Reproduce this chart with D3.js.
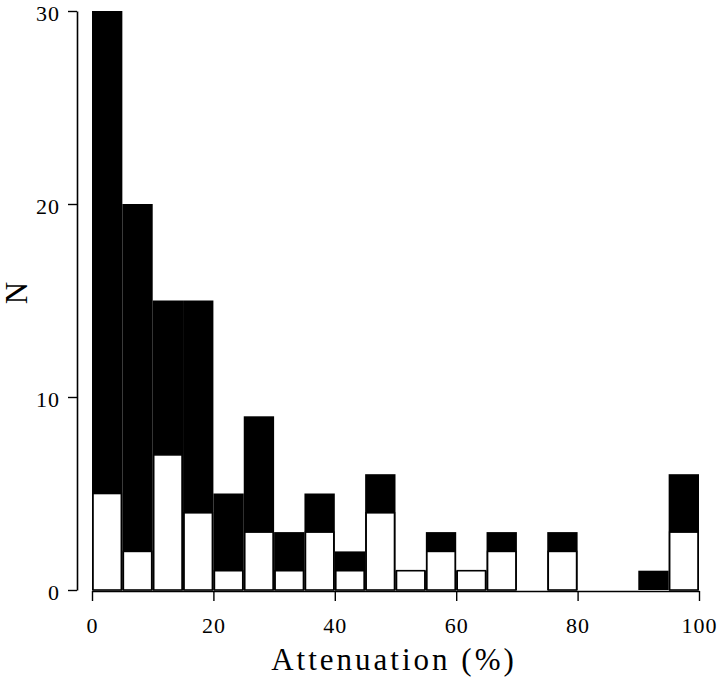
<!DOCTYPE html>
<html><head><meta charset="utf-8">
<script src="https://cdn.jsdelivr.net/npm/d3@7"></script>
<style>body{margin:0;background:#fff}svg{display:block}text{font-family:"Liberation Serif","DejaVu Serif",serif}</style>
</head><body>
<script>
// Bin starts (%), bin width 5
const binStarts = [0,5,10,15,20,25,30,35,40,45,50,55,60,65,70,75,80,85,90,95];
// Total counts (black + white)
const totalCounts = [30,20,15,15,5,9,3,5,2,6,1,3,1,3,0,3,0,0,1,6];
// White (lower) counts
const whiteCounts = [5,2,7,4,1,3,1,3,1,4,1,2,1,2,0,2,0,0,0,3];
const xTicks = [0,20,40,60,80,100];
const yTicks = [0,10,20,30];
const binWidth = 5;

const W = 720, H = 678;
const svg = d3.select("body").append("svg").attr("width", W).attr("height", H);

const x = d3.scaleLinear().domain([0,100]).range([92,699]);
const y = d3.scaleLinear().domain([0,30]).range([590,11]);

const font = '"Liberation Serif","DejaVu Serif",serif';

// Black (total) bars
svg.append("g").selectAll("rect").data(binStarts.map((b,i)=>({b,t:totalCounts[i]})).filter(d=>d.t>0))
  .join("rect")
  .attr("x", d=>x(d.b))
  .attr("width", d=>x(d.b+binWidth)-x(d.b))
  .attr("y", d=>y(d.t))
  .attr("height", d=>y(0)-y(d.t))
  .attr("fill","#000");

// White bars
svg.append("g").selectAll("rect").data(binStarts.map((b,i)=>({b,w:whiteCounts[i]})).filter(d=>d.w>0))
  .join("rect")
  .attr("x", d=>x(d.b)+1)
  .attr("width", d=>x(d.b+binWidth)-x(d.b)-2)
  .attr("y", d=>y(d.w))
  .attr("height", d=>y(0)-y(d.w))
  .attr("fill","#fff")
  .attr("stroke","#000")
  .attr("stroke-width",1.6);

// Y axis
const yAxis = d3.axisLeft(y).tickValues(yTicks).tickSize(9).tickPadding(8).tickSizeOuter(0);
const gy = svg.append("g").attr("transform","translate(77,0)").call(yAxis);
gy.attr("font-family",null);
gy.select(".domain").attr("stroke-width",1.6);
gy.selectAll(".tick line").attr("stroke-width",1.4);
gy.selectAll(".tick text").style("font-family",font).style("font-size","22px").attr("fill","#000")
  .attr("letter-spacing",1).attr("dy","0.44em");

// X axis
const xAxis = d3.axisBottom(x).tickValues(xTicks).tickSize(10).tickPadding(16).tickSizeOuter(0);
const gx = svg.append("g").attr("transform","translate(0,591)").call(xAxis);
gx.attr("font-family",null);
gx.select(".domain").attr("stroke-width",1.6);
gx.selectAll(".tick line").attr("stroke-width",1.4);
gx.selectAll(".tick text").style("font-family",font).style("font-size","22px").attr("fill","#000").attr("letter-spacing",1);

// Axis titles
svg.append("text").attr("x",394).attr("y",670).attr("text-anchor","middle")
  .style("font-family",font).style("font-size","31px").attr("letter-spacing",3).text("Attenuation (%)");
svg.append("text").attr("transform","translate(27,293) rotate(-90)").attr("text-anchor","middle")
  .style("font-family",font).style("font-size","31px").text("N");
</script>
</body></html>
